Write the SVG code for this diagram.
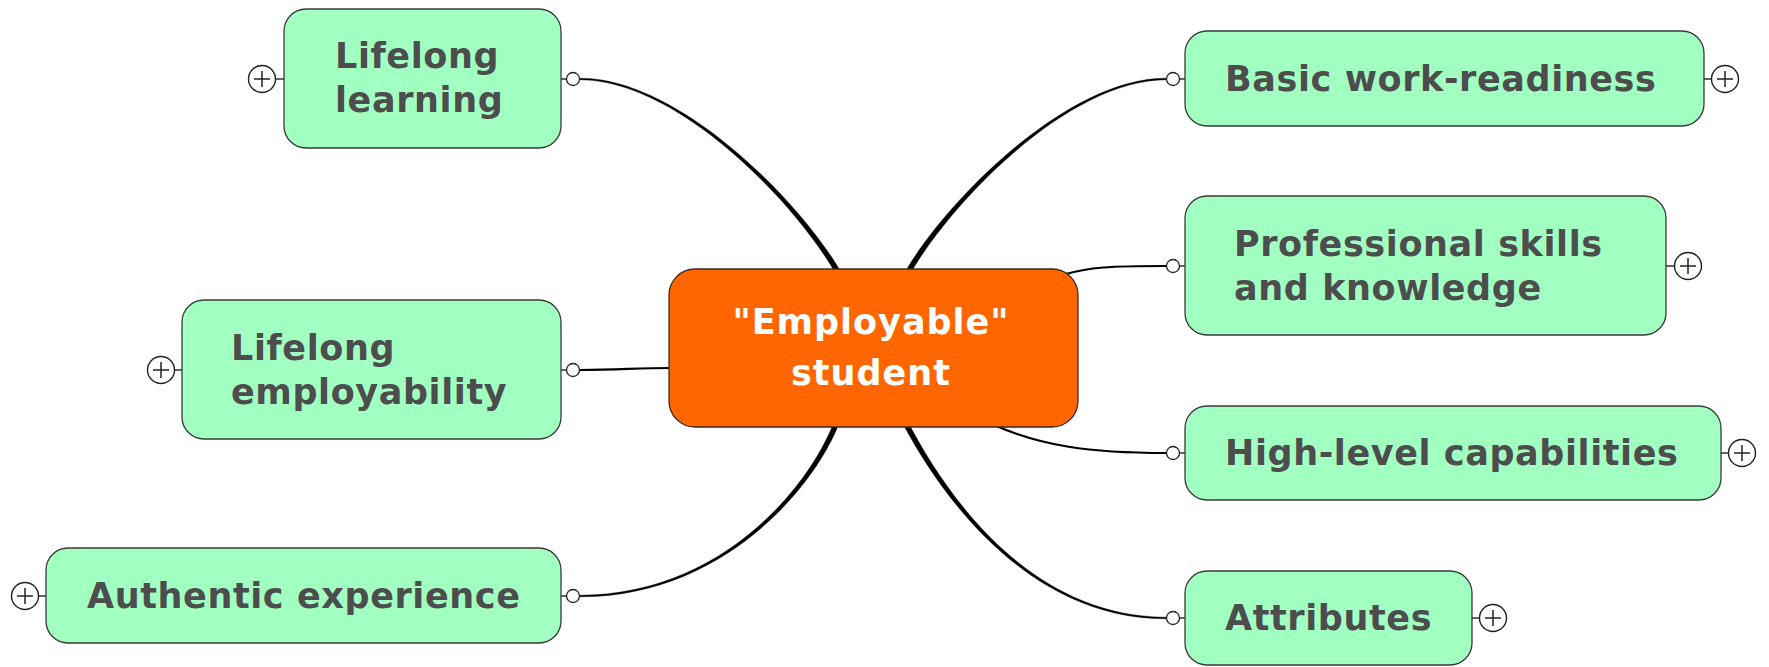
<svg xmlns="http://www.w3.org/2000/svg" xmlns:xlink="http://www.w3.org/1999/xlink" width="1769" height="667" viewBox="0 0 1769 667">
<style>
.box{fill:#A1FFC2;stroke:#3a3a3a;stroke-width:1.3}
.root{fill:#FF6600;stroke:#3a2a20;stroke-width:1.3}
.lbl{font-family:"DejaVu Sans","Verdana",sans-serif;font-weight:bold;font-size:35px;letter-spacing:0.6px;fill:#4D4D4D}
.rlbl{font-family:"DejaVu Sans","Verdana",sans-serif;font-weight:bold;font-size:35px;letter-spacing:1px;fill:#FFFFFF;text-anchor:middle}
.tick{stroke:#222;stroke-width:1.4}
.dot{fill:#fff;stroke:#222;stroke-width:1.3}
.taper{fill:#000;stroke:#000;stroke-width:0.4}
.line{fill:none;stroke:#000;stroke-width:2.2}
</style>
<defs>
<g id="plusIcon"><circle cx="0" cy="0" r="13.5" fill="#fff" stroke="#222" stroke-width="1.4"/><path d="M-8,0 H8 M0,-8 V8" fill="none" stroke="#222" stroke-width="1.5"/></g>
</defs>
<g id="connectors">
<path class="taper" d="M580,78.2 C680,77.8 802.1,203.8 841.3,272.7 L836.7,275.3 C797.9,206.2 680,80.2 580,79.8 Z"/>
<path class="taper" d="M1166,78.2 C1066,77.8 943.9,203.8 904.7,272.7 L909.3,275.3 C948.1,206.2 1066,80.2 1166,79.8 Z"/>
<path class="taper" d="M580,595.2 C720,594.8 807.8,489.1 833.6,423 L838.4,425 C812.2,490.9 720,597.2 580,596.8 Z"/>
<path class="taper" d="M1166,617.2 C1026,616.8 943.1,488.9 908.3,422.8 L903.7,425.2 C938.9,491.1 1026,619.2 1166,618.8 Z"/>
<path class="line" d="M580,370 C620,370 635,368 672,368"/>
<path class="line" d="M1166,266 C1110,266 1090,267 1062,275"/>
<path class="line" d="M1166,453 C1090,453 1040,446 992,424"/>
</g>
<g id="root">
<rect class="root" x="669" y="269" width="409" height="158" rx="26"/>
<text class="rlbl" x="871" y="334">"Employable"</text>
<text class="rlbl" x="871" y="385">student</text>
</g>
<g id="lifelong-learning">
<line class="tick" x1="561" y1="79" x2="567" y2="79"/><circle class="dot" cx="573" cy="79" r="6.5"/>
<line class="tick" x1="275" y1="79" x2="284" y2="79"/><use xlink:href="#plusIcon" x="262" y="79"/>
<rect class="box" x="284" y="9" width="277" height="139" rx="22"/>
<text class="lbl" x="335" y="68">Lifelong</text>
<text class="lbl" x="335" y="112">learning</text>
</g>
<g id="lifelong-employability">
<line class="tick" x1="561" y1="370" x2="567" y2="370"/><circle class="dot" cx="573" cy="370" r="6.5"/>
<line class="tick" x1="174" y1="370" x2="182" y2="370"/><use xlink:href="#plusIcon" x="161" y="370"/>
<rect class="box" x="182" y="300" width="379" height="139" rx="22"/>
<text class="lbl" x="231" y="360">Lifelong</text>
<text class="lbl" x="231" y="404">employability</text>
</g>
<g id="authentic-experience">
<line class="tick" x1="561" y1="596" x2="567" y2="596"/><circle class="dot" cx="573" cy="596" r="6.5"/>
<line class="tick" x1="38" y1="596" x2="46" y2="596"/><use xlink:href="#plusIcon" x="25" y="596"/>
<rect class="box" x="46" y="548" width="515" height="95" rx="22"/>
<text class="lbl" x="87" y="608">Authentic experience</text>
</g>
<g id="basic-work-readiness">
<line class="tick" x1="1179" y1="79" x2="1185" y2="79"/><circle class="dot" cx="1173" cy="79" r="6.5"/>
<line class="tick" x1="1704" y1="79" x2="1712" y2="79"/><use xlink:href="#plusIcon" x="1725" y="79"/>
<rect class="box" x="1185" y="31" width="519" height="95" rx="22"/>
<text class="lbl" x="1225" y="91">Basic work-readiness</text>
</g>
<g id="professional-skills">
<line class="tick" x1="1179" y1="266" x2="1185" y2="266"/><circle class="dot" cx="1173" cy="266" r="6.5"/>
<line class="tick" x1="1666" y1="266" x2="1675" y2="266"/><use xlink:href="#plusIcon" x="1688" y="266"/>
<rect class="box" x="1185" y="196" width="481" height="139" rx="22"/>
<text class="lbl" x="1234" y="256">Professional skills</text>
<text class="lbl" x="1234" y="300">and knowledge</text>
</g>
<g id="high-level-capabilities">
<line class="tick" x1="1179" y1="453" x2="1185" y2="453"/><circle class="dot" cx="1173" cy="453" r="6.5"/>
<line class="tick" x1="1721" y1="453" x2="1729" y2="453"/><use xlink:href="#plusIcon" x="1742" y="453"/>
<rect class="box" x="1185" y="406" width="536" height="94" rx="22"/>
<text class="lbl" x="1225" y="465">High-level capabilities</text>
</g>
<g id="attributes">
<line class="tick" x1="1179" y1="618" x2="1185" y2="618"/><circle class="dot" cx="1173" cy="618" r="6.5"/>
<line class="tick" x1="1472" y1="618" x2="1480" y2="618"/><use xlink:href="#plusIcon" x="1493" y="618"/>
<rect class="box" x="1185" y="571" width="287" height="94" rx="22"/>
<text class="lbl" x="1225" y="630">Attributes</text>
</g>
</svg>
